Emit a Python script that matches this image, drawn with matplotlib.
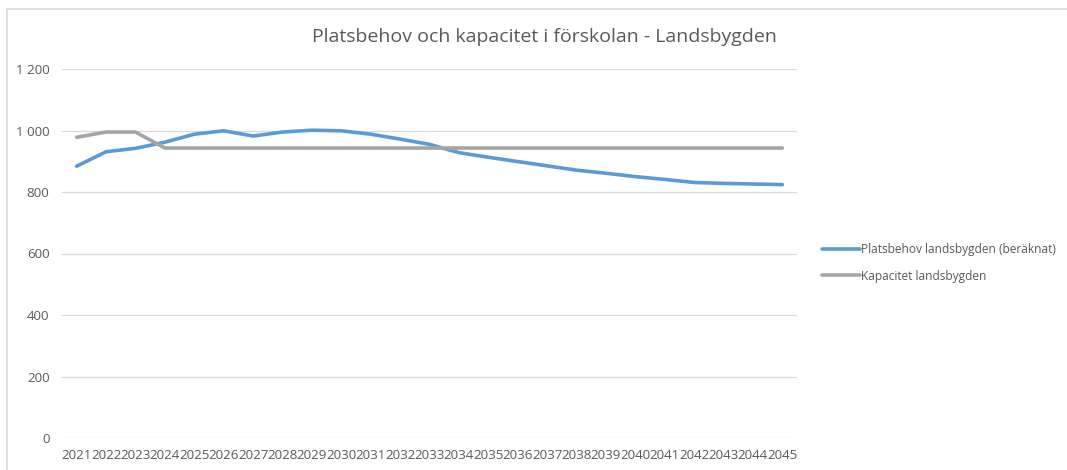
import matplotlib
matplotlib.use("Agg")
import matplotlib.pyplot as plt
from matplotlib.ticker import FuncFormatter
from matplotlib.patches import Rectangle

plt.rcParams['font.family'] = ['Open Sans', 'DejaVu Sans']

years = [str(y) for y in range(2021, 2046)]
platsbehov = [884, 931, 942, 962, 988, 999, 982, 995, 1001, 999, 988, 972, 955,
              928, 913, 899, 885, 871, 861, 850, 841, 831, 828, 826, 824]
kapacitet = [978, 995, 995, 943, 943, 943, 943, 943, 943, 943, 943, 943, 943,
             943, 943, 943, 943, 943, 943, 943, 943, 943, 943, 943, 943]

textcol = '#595959'
gridcol = '#D9D9D9'

fig = plt.figure(figsize=(10.67, 4.70), dpi=100)
# chart frame (cropped at right/bottom)
fig.patches.append(Rectangle((7/1067, -0.1), 1.2, (470-9)/470 + 0.1,
                             transform=fig.transFigure, fill=False,
                             edgecolor='#D9D9D9', linewidth=1.2))

ax = fig.add_axes([62/1067, (470-438)/470, 735/1067, (438-69)/470])
x = range(len(years))
ax.plot(x, platsbehov, color='#5B9BD5', lw=2.6, solid_capstyle='round',
        label='Platsbehov landsbygden (beräknat)')
ax.plot(x, kapacitet, color='#A5A5A5', lw=2.6, solid_capstyle='round',
        label='Kapacitet landsbygden')

ax.set_xlim(-0.5, len(years) - 0.5)
ax.set_ylim(0, 1200)
ax.set_yticks(range(0, 1201, 200))
ax.yaxis.set_major_formatter(FuncFormatter(lambda v, p: f'{int(v):,}'.replace(',', ' ')))
ax.set_xticks(list(x))
ax.set_xticklabels(years)
ax.grid(axis='y', color=gridcol, lw=0.9)
ax.set_axisbelow(True)
for s in ax.spines.values():
    s.set_visible(False)
ax.tick_params(axis='both', length=0, labelsize=9.6, colors=textcol)
ax.tick_params(axis='y', pad=9)
ax.tick_params(axis='x', pad=8)

fig.text(544/1067, 1 - 37/470, 'Platsbehov och kapacitet i förskolan - Landsbygden',
         ha='center', va='center', fontsize=14, color=textcol)

fig.legend(loc='center left', bbox_to_anchor=(811/1067, 1 - 263/470), frameon=False,
           fontsize=8.6, labelcolor=textcol, handlelength=3.2, handletextpad=0.1,
           labelspacing=1.1)

fig.savefig('out.png', dpi=100)
